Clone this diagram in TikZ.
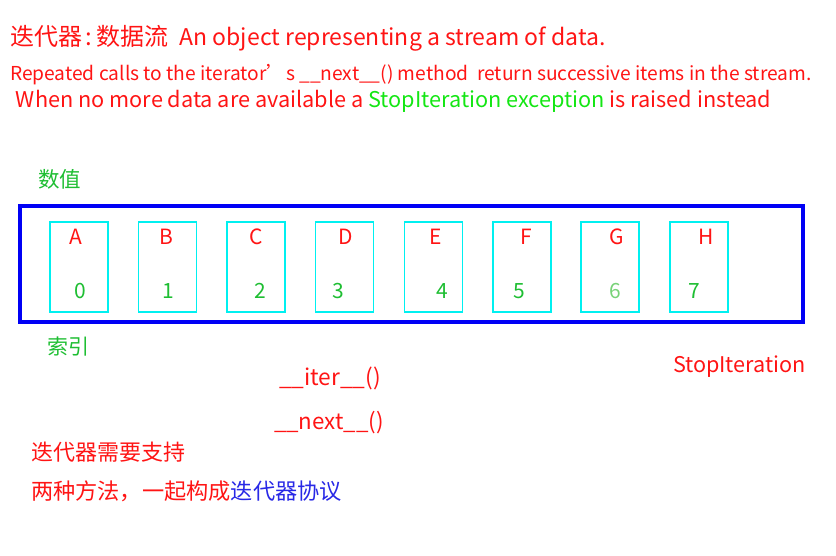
\documentclass[tikz,border=0pt]{standalone}
\usepackage{fontspec}
\setmainfont{Noto Sans CJK SC}
\usetikzlibrary{positioning}
\definecolor{txtred}{RGB}{255, 20, 20}
\definecolor{valgreen}{RGB}{30, 190, 50}
\definecolor{brightgreen}{RGB}{20, 230, 20}
\definecolor{palegreen}{RGB}{120, 210, 120}
\definecolor{seqblue}{RGB}{0, 0, 245}
\definecolor{protoblue}{RGB}{40, 40, 230}
\definecolor{cellcyan}{RGB}{0, 240, 240}

\begin{document}
\begin{tikzpicture}[
    x=1pt, y=-1pt,
    every node/.style={inner sep=0pt, outer sep=0pt},
    line/.style={anchor=base west, font=\fontsize{19.2}{19.2}\selectfont, text=txtred},
    cell/.style={rectangle, draw=cellcyan, line width=1.4pt, minimum width=58pt, minimum height=90pt},
    letter/.style={font=\fontsize{21}{21}\selectfont, text=txtred},
    index/.style={font=\fontsize{21}{21}\selectfont, text=valgreen},
    tag/.style={anchor=base west, font=\fontsize{22}{22}\selectfont}
]
\useasboundingbox (0,0) rectangle (836,556);
% header lines
\node[line, font=\fontsize{24}{24}\selectfont] (title) at (10,46) {迭代器\,:\,数据流\hspace{11pt}{\fontsize{23}{23}\selectfont An object representing a stream of data.}};
\node[line] (calls) at (10,81) {Repeated calls to the iterator’s \_\_next\_\_() method\ \ return successive items in the stream.};
\node[line, font=\fontsize{21.7}{21.7}\selectfont] (stopline) at (16,108) {When no more data are available a \textcolor{brightgreen}{StopIteration exception} is raised instead};
% sequence
\node[tag, text=valgreen, font=\fontsize{21.5}{21.5}\selectfont] (value) at (38,188) {数值};
\draw[seqblue, line width=4pt] (20,206) rectangle (803,322);
\node[cell] (cellA) at (79,267) {};
\node[cell] (cellB) at (167.5,267) {};
\node[cell] (cellC) at (256,267) {};
\node[cell] (cellD) at (344.5,267) {};
\node[cell] (cellE) at (433.5,267) {};
\node[cell] (cellF) at (522,267) {};
\node[cell] (cellG) at (610,267) {};
\node[cell] (cellH) at (699,267) {};
\node[letter] at (76,237) {A};
\node[letter] at (166,237) {B};
\node[letter] at (256,237) {C};
\node[letter] at (346,237) {D};
\node[letter] at (436,237) {E};
\node[letter] at (526,237) {F};
\node[letter] at (617,237) {G};
\node[letter] at (706,237) {H};
\node[index] at (80,291) {0};
\node[index] at (168,291) {1};
\node[index] at (260,291) {2};
\node[index] at (338,291) {3};
\node[index] at (442,291) {4};
\node[index] at (519,291) {5};
\node[index, text=palegreen] at (615,291) {6};
\node[index] at (694,291) {7};
\node[tag, text=valgreen, font=\fontsize{21}{21}\selectfont] (index) at (47,354) {索引};
% methods
\node[tag, text=txtred, font=\fontsize{21.6}{21.6}\selectfont] (stop) at (673,372) {StopIteration};
\node[tag, text=txtred, font=\fontsize{22.7}{22.7}\selectfont] (iter) at (279,385) {\_\_iter\_\_()};
\node[tag, text=txtred, font=\fontsize{22.3}{22.3}\selectfont] (next) at (274,429) {\_\_next\_\_()};
% protocol
\node[tag, text=txtred] (needs) at (31,460) {迭代器需要支持};
\node[tag, text=txtred, font=\fontsize{22.2}{22.2}\selectfont] (proto) at (31,499) {两种方法，一起构成\textcolor{protoblue}{迭代器协议}};
\end{tikzpicture}
\end{document}
